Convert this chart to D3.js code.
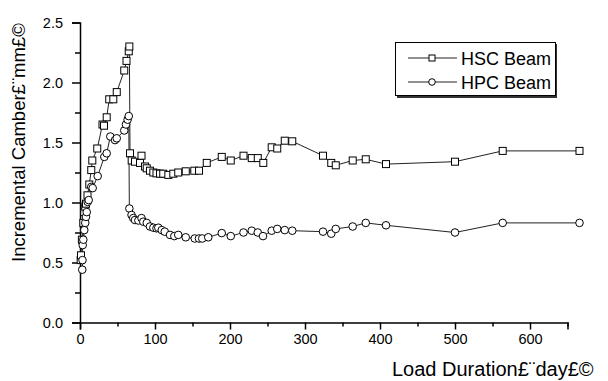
<!DOCTYPE html>
<html>
<head>
<meta charset="utf-8">
<script src="https://cdn.jsdelivr.net/npm/d3@7"></script>
<style>
	body{margin:0;background:#fff;}
	svg{display:block;font-family:Arial,"Liberation Sans",sans-serif;}
</style>
</head>
<body>
<svg id="chart" width="608" height="381"></svg>
<script>
// HSC beam (squares)
var hscDay = [0.9,1.3,2.5,4.4,5.7,7,8,10,12.4,15,16.4,23,30,32,35.6,39,44.4,49,59,62,65,65.8,66.7,68.9,73.3,80,82,86.7,89,93.3,97.8,102,106.7,111,117.8,124.4,131,141,152.4,158.7,169,189,201,218,229,237,244.4,255.6,263,273,283,324,335,341,363.6,381,408,500,563.6,666];
var hscVal = [0.52,0.56,0.69,0.83,0.92,0.965,0.99,1.06,1.15,1.27,1.35,1.45,1.65,1.64,1.71,1.86,1.86,1.92,2.10,2.18,2.26,2.30,1.41,1.35,1.34,1.33,1.39,1.30,1.285,1.265,1.25,1.243,1.24,1.24,1.23,1.24,1.25,1.26,1.265,1.265,1.33,1.38,1.35,1.39,1.37,1.37,1.33,1.46,1.45,1.515,1.51,1.39,1.33,1.31,1.35,1.36,1.32,1.34,1.43,1.43];
// HPC beam (circles)
var hpcDay = [3,3.3,3.6,4.4,5.7,7,8,9,10.2,11.6,15,16.9,23.6,32.4,35.6,40.4,46.7,49,59,61.3,63.5,65,65.8,68.7,71,73.3,77.8,82,84.4,89,93.3,97.8,102,104.4,109,113,120,125.8,131,141,153,158.7,163,171,189,201,218,229,237,244,255.6,263,273,283,324,335,341,363.6,381,408,500,563.6,666];
var hpcVal = [0.44,0.52,0.645,0.69,0.77,0.83,0.88,0.92,1.005,1.02,1.13,1.12,1.22,1.38,1.41,1.55,1.52,1.535,1.60,1.65,1.69,1.72,0.95,0.896,0.87,0.854,0.85,0.87,0.84,0.83,0.80,0.79,0.785,0.79,0.77,0.757,0.73,0.72,0.73,0.71,0.70,0.70,0.70,0.71,0.745,0.72,0.75,0.765,0.75,0.72,0.765,0.78,0.77,0.765,0.757,0.74,0.78,0.80,0.83,0.81,0.75,0.83,0.83];

var xTicks = [0,100,200,300,400,500,600];
var xMinor = [50,150,250,350,450,550,650];
var yTicks = [0.0,0.5,1.0,1.5,2.0,2.5];
var yMinor = [0.25,0.75,1.25,1.75,2.25];
var seriesNames = ["HSC Beam","HPC Beam"];
var xTitle = "Load Duration£¨day£©";
var yTitle = "Incremental Camber£¨mm£©";

var svg = d3.select("#chart");
var x = d3.scaleLinear().domain([0,650]).range([80,567.5]);
var y = d3.scaleLinear().domain([0,2.5]).range([322.5,22.5]);

// axes
svg.append("g").attr("transform","translate(0,322.5)")
	.call(d3.axisBottom(x).tickValues(xTicks).tickSize(7).tickPadding(4).tickFormat(d3.format("d")));
svg.append("g").attr("transform","translate(0,322.5)")
	.call(d3.axisBottom(x).tickValues(xMinor).tickSize(4).tickFormat(""));
svg.append("g").attr("transform","translate(80,0)")
	.call(d3.axisLeft(y).tickValues(yTicks).tickSize(8).tickPadding(9).tickFormat(d3.format(".1f")));
svg.append("g").attr("transform","translate(80,0)")
	.call(d3.axisLeft(y).tickValues(yMinor).tickSize(5).tickFormat(""));

svg.selectAll(".domain").attr("stroke","#000").attr("stroke-width",1.5);
svg.selectAll(".tick line").attr("stroke","#000").attr("stroke-width",1.5);
svg.selectAll(".tick text").attr("fill","#000").attr("font-size",14.5).attr("font-family","Arial, 'Liberation Sans', sans-serif");
// drop the extra outer ticks that the minor axes add
svg.selectAll(".domain").filter(function(d,i){return i%2==1;}).remove();

// titles
svg.append("text").attr("x",392).attr("y",376).attr("font-size",20).attr("fill","#000").text(xTitle);
svg.append("text").attr("transform","translate(25,262) rotate(-90)").attr("font-size",18.5).attr("fill","#000").text(yTitle);

// series
var hsc = hscDay.map(function(d,i){return [d,hscVal[i]];});
var hpc = hpcDay.map(function(d,i){return [d,hpcVal[i]];});
var line = d3.line().x(function(d){return x(d[0]);}).y(function(d){return y(d[1]);});

[hsc,hpc].forEach(function(s){
	svg.append("path").datum(s).attr("d",line)
	.attr("fill","none").attr("stroke","#222").attr("stroke-width",1);
});

svg.selectAll("rect.hsc").data(hsc).enter().append("rect").attr("class","hsc")
	.attr("x",function(d){return x(d[0])-3.5;}).attr("y",function(d){return y(d[1])-3.5;})
	.attr("width",7).attr("height",7)
	.attr("fill","#fff").attr("stroke","#000").attr("stroke-width",1);
svg.selectAll("circle.hpc").data(hpc).enter().append("circle").attr("class","hpc")
	.attr("cx",function(d){return x(d[0]);}).attr("cy",function(d){return y(d[1]);})
	.attr("r",3.8)
	.attr("fill","#fff").attr("stroke","#000").attr("stroke-width",1);

// legend
var lg = svg.append("g");
lg.append("rect").attr("x",397).attr("y",44).attr("width",160).attr("height",54).attr("fill","#333");
lg.append("rect").attr("x",395.5).attr("y",42.5).attr("width",160).attr("height",53).attr("fill","#fff").attr("stroke","#000").attr("stroke-width",1);
var rows = lg.selectAll("g.row").data(seriesNames).enter().append("g").attr("class","row")
	.attr("transform",function(d,i){return "translate(0,"+(58+i*24)+")";});
rows.append("line").attr("x1",408).attr("x2",457).attr("y1",0).attr("y2",0).attr("stroke","#222").attr("stroke-width",1);
rows.append("text").attr("x",461).attr("y",6.5).attr("font-size",18).attr("fill","#000").text(function(d){return d;});
rows.filter(function(d,i){return i==0;}).append("rect")
	.attr("x",429).attr("y",-3).attr("width",6).attr("height",6)
	.attr("fill","#fff").attr("stroke","#000");
rows.filter(function(d,i){return i==1;}).append("circle")
	.attr("cx",432).attr("cy",0).attr("r",3.3)
	.attr("fill","#fff").attr("stroke","#000");
</script>
</body>
</html>
